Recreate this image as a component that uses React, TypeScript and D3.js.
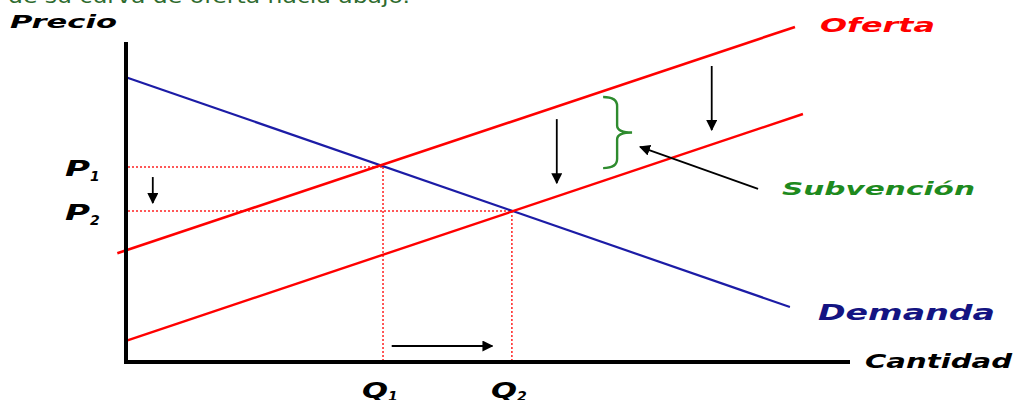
import React from "react";
import * as d3 from "d3";

// curve endpoints, [cantidad, precio]
const demanda: [number, number][] = [[0, 89], [91.7, 17.2]];
const oferta: [number, number][] = [[-1.2, 34], [92.4, 104.7]];
const ofertaSubv: [number, number][] = [[0, 6.6], [93.5, 77.5]];

// equilibria
const equilQ = [35.5, 53.3];
const equilP = [60.9, 47.2];
const subindices = ["1", "2"];

// annotation arrows: [q1, p1, q2, p2]
const flechas: [number, number, number, number][] = [
  [3.7, 57.8, 3.7, 49.7],
  [59.5, 75.9, 59.5, 55.9],
  [80.9, 92.5, 80.9, 72.5],
  [36.7, 5, 50.6, 5],
  [87.3, 54.1, 71, 67.2],
];
// brace showing the subsidy: q, pTop, pBottom, qTip
const llave = [65.9, 82.8, 60.6, 69.9];

const W = 1016;
const H = 400;
const FONT = "'DejaVu Sans', Verdana, sans-serif";

const App = () => {
  const x = d3.scaleLinear().domain([0, 100]).range([126, 850]);
  const y = d3.scaleLinear().domain([0, 100]).range([362, 42]);
  const line = d3
    .line<[number, number]>()
    .x((d) => x(d[0]))
    .y((d) => y(d[1]));

  const [bq, bt, bb, btip] = llave;
  const bx0 = x(bq);
  const bxm = bx0 + 14;
  const bxt = x(btip);
  const by0 = y(bt);
  const by1 = y(bb);
  const bym = (by0 + by1) / 2;
  const bracePath = `M${bx0},${by0} Q${bxm},${by0} ${bxm},${by0 + 9} L${bxm},${bym - 7} Q${bxm},${bym} ${bxt},${bym} Q${bxm},${bym} ${bxm},${bym + 7} L${bxm},${by1 - 9} Q${bxm},${by1} ${bx0},${by1}`;

  const txt = {
    fontFamily: FONT,
    fontWeight: "bold" as const,
    fontStyle: "italic" as const,
  };

  return (
    <svg
      width={W}
      height={H}
      style={{ position: "absolute", left: 0, top: 0, background: "#fff" }}
    >
      <defs>
        <marker
          id="head"
          viewBox="0 0 10 10"
          refX={9}
          refY={5}
          markerWidth={11}
          markerHeight={11}
          markerUnits="userSpaceOnUse"
          orient="auto"
        >
          <path d="M0,0 L10,5 L0,10 Z" fill="#000" />
        </marker>
      </defs>

      {/* caption line cut off at the top edge */}
      <text
        x={8}
        y={3}
        fontFamily={FONT}
        fontSize={20}
        fill="#2e6b2e"
        textLength={402}
        lengthAdjust="spacingAndGlyphs"
      >
        de su curva de oferta hacia abajo.
      </text>

      {/* dotted guides */}
      {equilQ.map((q, i) => (
        <g key={"g" + i} stroke="#ff2020" strokeWidth={1.5} strokeDasharray="2,2">
          <line x1={x(0) + 2} x2={x(q)} y1={y(equilP[i])} y2={y(equilP[i])} />
          <line x1={x(q)} x2={x(q)} y1={y(equilP[i])} y2={y(0)} />
        </g>
      ))}

      {/* curves */}
      <path d={line(demanda) ?? ""} stroke="#1c1ca6" strokeWidth={2.2} fill="none" />
      <path d={line(oferta) ?? ""} stroke="#ff0000" strokeWidth={2.6} fill="none" />
      <path d={line(ofertaSubv) ?? ""} stroke="#ff0000" strokeWidth={2.4} fill="none" />

      {/* axes */}
      <line x1={x(0)} x2={x(0)} y1={y(100)} y2={y(0) + 2} stroke="#000" strokeWidth={4} />
      <line x1={x(0)} x2={x(100)} y1={y(0)} y2={y(0)} stroke="#000" strokeWidth={4} />

      {/* arrows */}
      {flechas.map((f, i) => (
        <line
          key={"a" + i}
          x1={x(f[0])}
          y1={y(f[1])}
          x2={x(f[2])}
          y2={y(f[3])}
          stroke="#000"
          strokeWidth={1.8}
          markerEnd="url(#head)"
        />
      ))}

      <path d={bracePath} stroke="#2e8b2e" strokeWidth={2.4} fill="none" />

      {/* labels */}
      <text {...txt} x={10} y={28} fontSize={18} fill="#000" textLength={107} lengthAdjust="spacingAndGlyphs">
        Precio
      </text>
      <text {...txt} x={820} y={32} fontSize={20} fill="#ff0000" textLength={115} lengthAdjust="spacingAndGlyphs">
        Oferta
      </text>
      <text {...txt} x={782} y={195} fontSize={18} fill="#1e8a1e" textLength={193} lengthAdjust="spacingAndGlyphs">
        Subvención
      </text>
      <text {...txt} x={818} y={320} fontSize={21} fill="#141482" textLength={177} lengthAdjust="spacingAndGlyphs">
        Demanda
      </text>
      <text {...txt} x={865} y={368} fontSize={19} fill="#000" textLength={147} lengthAdjust="spacingAndGlyphs">
        Cantidad
      </text>

      {equilP.map((p, i) => (
        <text key={"p" + i} {...txt} x={65} y={y(p) + 9} fontSize={21} fill="#000">
          <tspan textLength={25} lengthAdjust="spacingAndGlyphs">P</tspan>
          <tspan fontSize={14} dy={5}>{subindices[i]}</tspan>
        </text>
      ))}
      {equilQ.map((q, i) => (
        <text key={"q" + i} {...txt} x={x(q) - 21} y={398} fontSize={22} fill="#000">
          <tspan textLength={26} lengthAdjust="spacingAndGlyphs">Q</tspan>
          <tspan fontSize={14} dy={3}>{subindices[i]}</tspan>
        </text>
      ))}
    </svg>
  );
};

export default App;
